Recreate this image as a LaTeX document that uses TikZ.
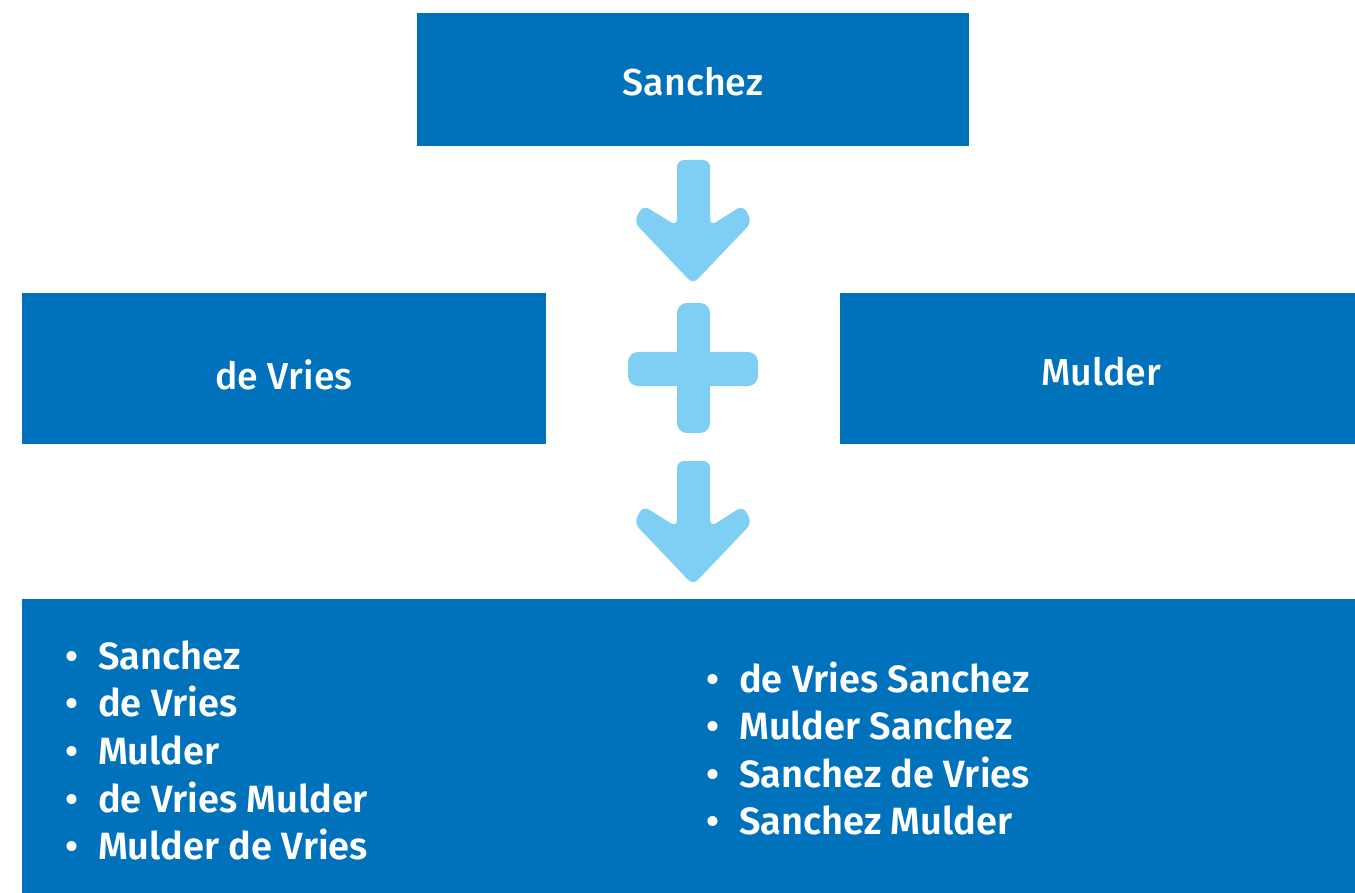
\documentclass[tikz,border=0pt]{standalone}
\usepackage{fontspec}
\setmainfont{Fira Sans}
\newfontfamily\medfont{Fira Sans Medium}
\newfontfamily\boldfont{Fira Sans SemiBold}
\definecolor{darkblue}{HTML}{0071BB}
\definecolor{lightblue}{HTML}{7FCFF4}
\tikzset{
  box/.style={fill=darkblue, draw=none, inner sep=0pt},
  boxtext/.style={text=white, font=\medfont\fontsize{37.5}{42}\selectfont, inner sep=0pt},
  item/.style={text=white, font=\boldfont\fontsize{38}{42}\selectfont, anchor=base west, inner sep=0pt},
  bul/.style={text=white, font=\boldfont\fontsize{38}{42}\selectfont, anchor=base, inner sep=0pt},
  shapefill/.style={fill=lightblue, draw=none}
}
\begin{document}
\begin{tikzpicture}[x=1pt,y=-1pt]
\useasboundingbox (0,0) rectangle (1355,893);
% boxes
\fill[box] (417,13) rectangle (969,146);
\node[boxtext] (sanchez) at (693,82) {Sanchez};
\fill[box] (22,293) rectangle (546,444);
\node[boxtext] (devries) at (284,375) {de Vries};
\fill[box] (840,293) rectangle (1355,444);
\node[boxtext] (mulder) at (1101,372) {Mulder};
\fill[box] (22,599) rectangle (1355,893);
% arrow 1
\fill[shapefill, rounded corners=7pt]
  (677,160) -- (677,226) -- (643,205) -- (634,222) -- (693,284) -- (752,222) -- (743,205) -- (710,226) -- (710,160) -- cycle;
% plus
\fill[shapefill, rounded corners=10pt] (677,303) rectangle (710,433);
\fill[shapefill, rounded corners=10pt] (628,352) rectangle (758,386);
% arrow 2
\fill[shapefill, rounded corners=7pt]
  (677,461) -- (677,527) -- (643,506) -- (634,523) -- (693,585) -- (752,523) -- (743,506) -- (710,527) -- (710,461) -- cycle;
% left list
\node[bul] (b1) at (72,669) {•};
\node[item] (l1) at (98,669) {Sanchez};
\node[bul] (b2) at (72,716) {•};
\node[item] (l2) at (98,716) {de Vries};
\node[bul] (b3) at (72,764) {•};
\node[item] (l3) at (98,764) {Mulder};
\node[bul] (b4) at (72,812) {•};
\node[item] (l4) at (98,812) {de Vries Mulder};
\node[bul] (b5) at (72,859) {•};
\node[item] (l5) at (98,859) {Mulder de Vries};
% right list
\node[bul] (r1b) at (713,692) {•};
\node[item] (r1) at (739,692) {de Vries Sanchez};
\node[bul] (r2b) at (713,739) {•};
\node[item] (r2) at (739,739) {Mulder Sanchez};
\node[bul] (r3b) at (713,787) {•};
\node[item] (r3) at (739,787) {Sanchez de Vries};
\node[bul] (r4b) at (713,834) {•};
\node[item] (r4) at (739,834) {Sanchez Mulder};
\end{tikzpicture}
\end{document}
